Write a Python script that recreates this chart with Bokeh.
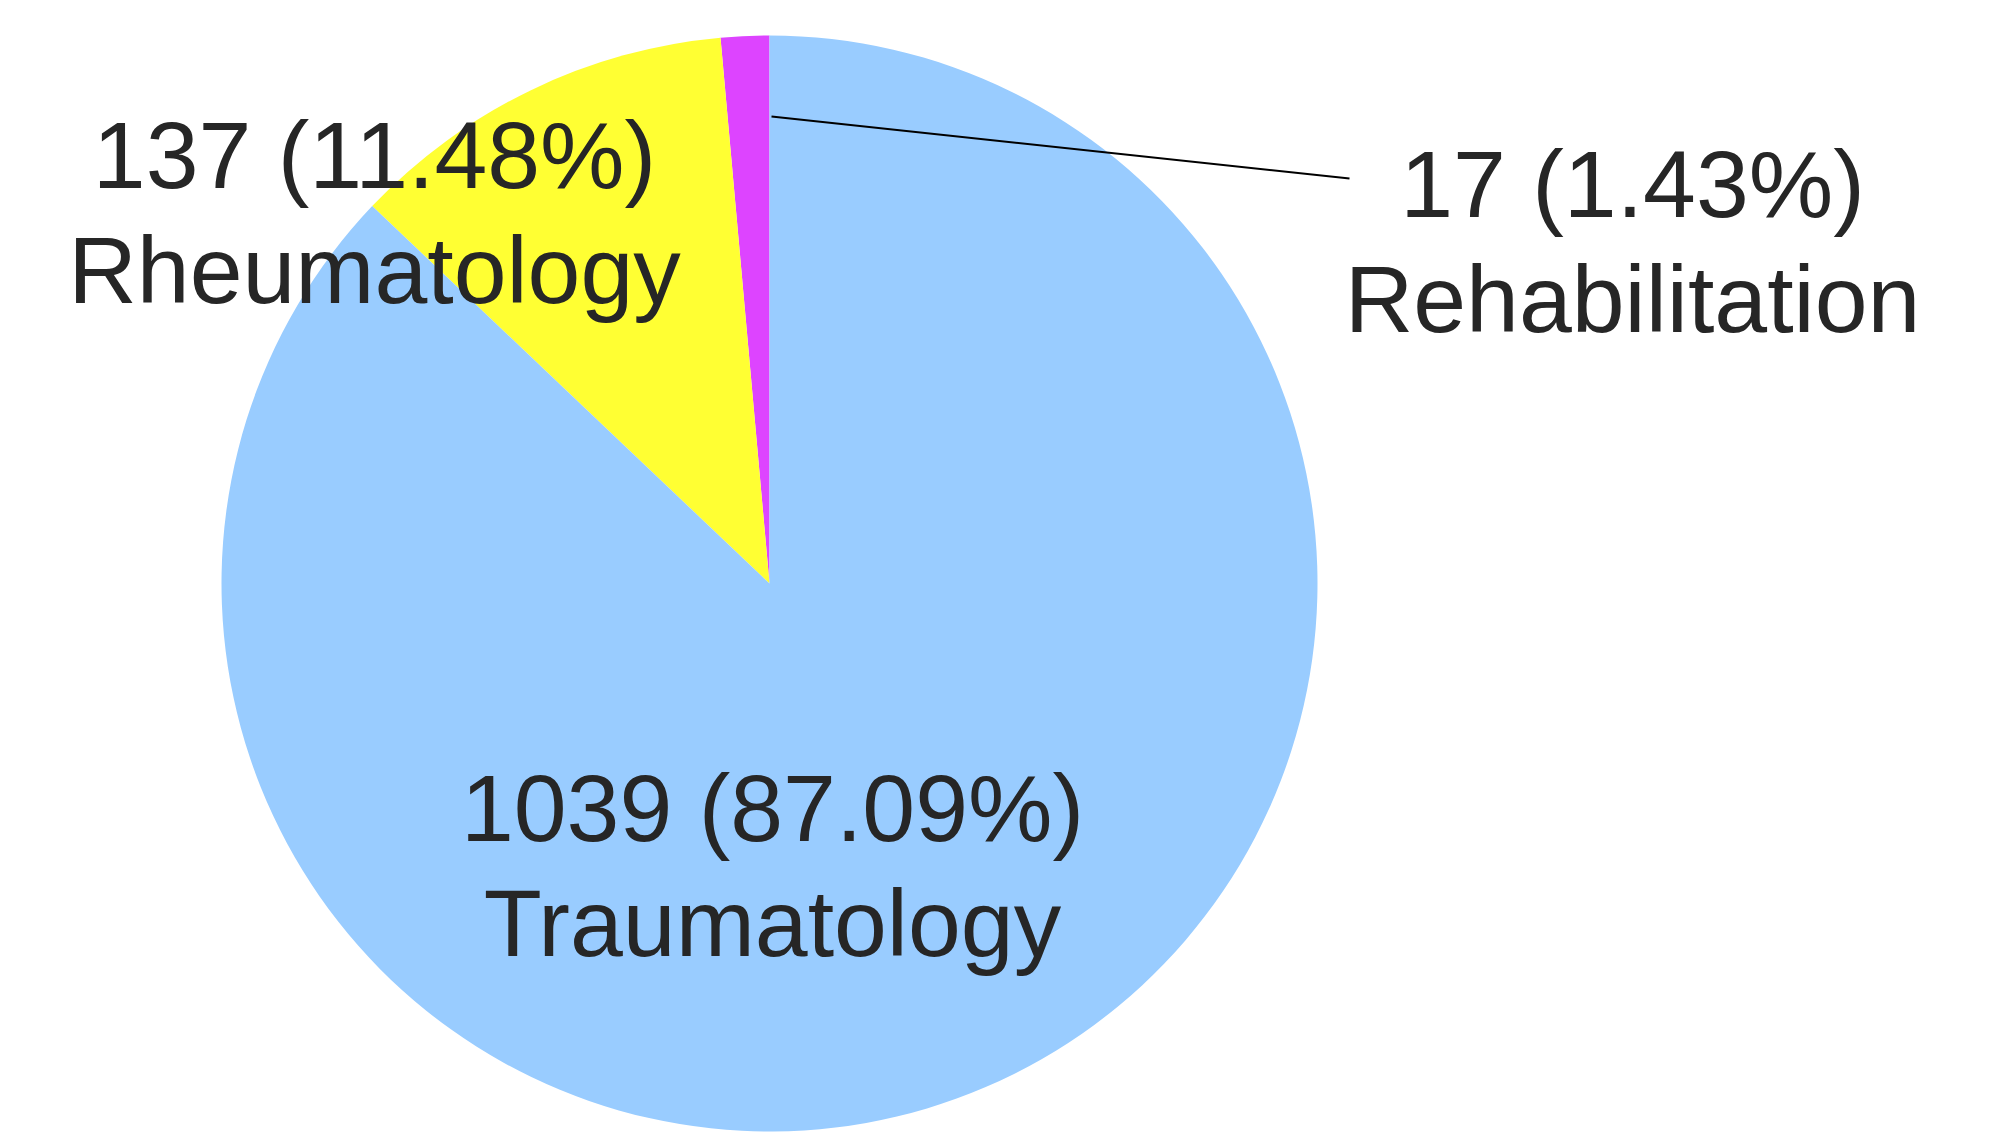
import math
from bokeh.plotting import figure
from bokeh.models import Range1d, ColumnDataSource
from bokeh.core.properties import value
from bokeh.embed import file_html
from bokeh.resources import INLINE

# ---- data ----
categories = ["Rehabilitation", "Rheumatology", "Traumatology"]
counts = [17, 137, 1039]
percents = [1.43, 11.48, 87.09]
colors = ["#DD44FF", "#FFFF33", "#99CCFF"]

# ---- layout (pixels, figure coordinates with y measured from top) ----
W, H = 1990, 1135
center = (769, 583)
radius = 548
label_xy = {  # center x, baseline of first line
    "Rehabilitation": (1632, 219),
    "Rheumatology": (374, 190),
    "Traumatology": (772, 843),
}
line_gap = 115
text_shift = 36
leader = ((771, 116), (1349, 178))

def fy(y):
    return H - y

p = figure(width=W, height=H, output_backend="svg", toolbar_location=None,
           x_range=Range1d(0, W), y_range=Range1d(0, H), min_border=0)
p.axis.visible = False
p.grid.visible = False
p.outline_line_color = None
p.background_fill_color = "white"
p.border_fill_color = "white"

total = sum(counts)
starts, ends = [], []
a = math.pi / 2
for c in counts:
    starts.append(a)
    a += 2 * math.pi * c / total
    ends.append(a)

src = ColumnDataSource(dict(start=starts, end=ends, color=colors, cat=categories))
p.wedge(x=center[0], y=fy(center[1]), radius=radius, start_angle="start", end_angle="end",
        fill_color="color", line_color=None, source=src)

# leader line for the small slice
p.line([leader[0][0], leader[1][0]], [fy(leader[0][1]), fy(leader[1][1])],
       line_color="black", line_width=2)

xs, ys, texts = [], [], []
for cat, cnt, pct in zip(categories, counts, percents):
    lx, ly = label_xy[cat]
    xs += [lx, lx]
    ys += [fy(ly - text_shift), fy(ly + line_gap - text_shift)]
    texts += [f"{cnt} ({pct:.2f}%)", cat]

p.text(x=xs, y=ys, text=texts, text_align="center", text_baseline="alphabetic",
       text_font=value("Liberation Sans"), text_font_size="95px", text_color="#262626")

open("out.html", "w").write(file_html(p, INLINE))
